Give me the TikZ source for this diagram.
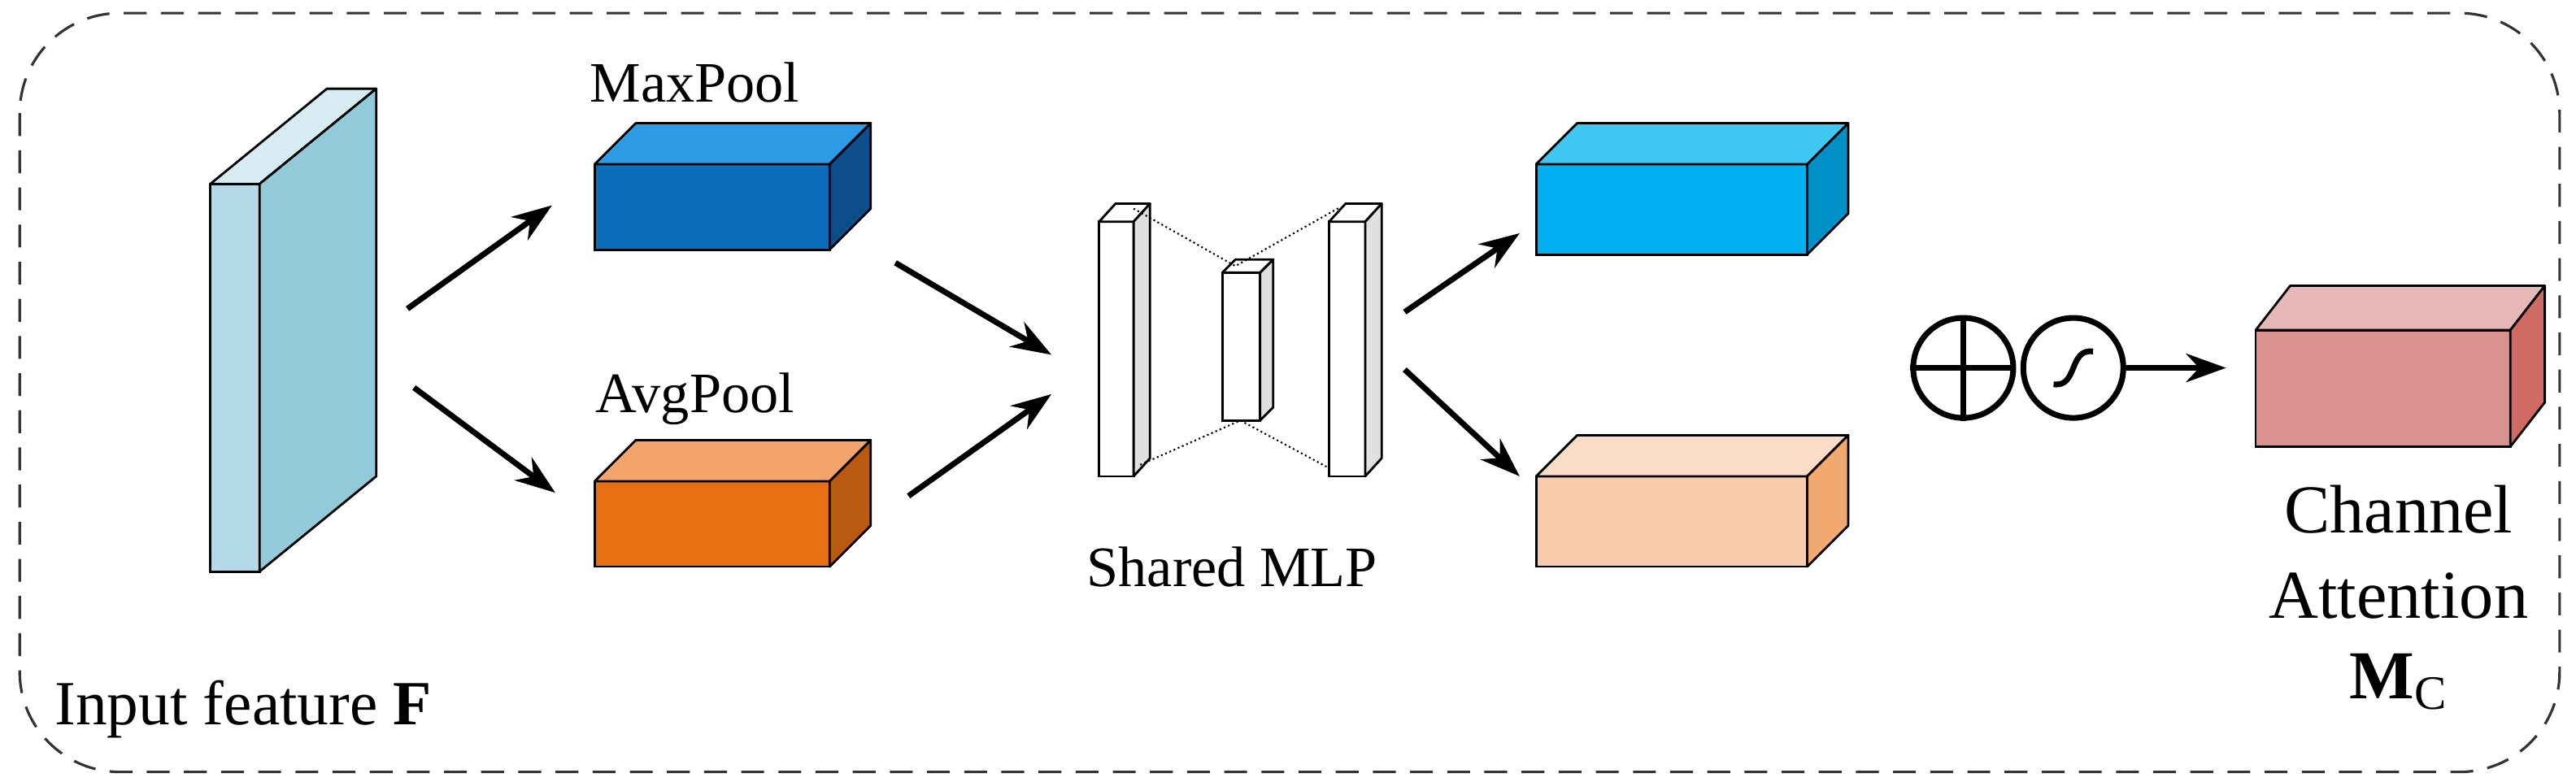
\documentclass[tikz,border=0pt]{standalone}
\usepackage{fontspec}
\setmainfont{Liberation Serif}
\usetikzlibrary{arrows.meta,calc}
\newcommand{\cuboid}[9]{% name, x1,y1,x2,y2, dx,dy, front,top ; side via \sidecol
  \fill[#8,draw=black,line width=0.8pt] (#2,#3) rectangle (#4,#5);
  \filldraw[#9,draw=black,line width=0.8pt,line join=round] (#2,#3) -- ++(#6,#7) -- ($(#4,#3)+(#6,#7)$) -- (#4,#3) -- cycle;
  \filldraw[\sidecol,draw=black,line width=0.8pt,line join=round] (#4,#3) -- ++(#6,#7) -- ($(#4,#5)+(#6,#7)$) -- (#4,#5) -- cycle;
  \node[inner sep=0pt] (#1) at ($(#2,#3)!0.5!(#4,#5)$) {};}
\definecolor{inA}{HTML}{B3DAE6}\definecolor{inB}{HTML}{93CAD9}\definecolor{inT}{HTML}{D6ECF2}
\definecolor{mpF}{HTML}{0A6EBD}\definecolor{mpT}{HTML}{2E9BE6}\definecolor{mpS}{HTML}{0D4E8A}
\definecolor{apF}{HTML}{E97012}\definecolor{apT}{HTML}{F4A46A}\definecolor{apS}{HTML}{B85A10}
\definecolor{bF}{HTML}{00B0F0}\definecolor{bT}{HTML}{40C8F5}\definecolor{bS}{HTML}{0090C8}
\definecolor{pF}{HTML}{F8CBAD}\definecolor{pT}{HTML}{FBDCC6}\definecolor{pS}{HTML}{F0A86E}
\definecolor{cF}{HTML}{D9928F}\definecolor{cT}{HTML}{E6B8B7}\definecolor{cS}{HTML}{CF6B64}
\definecolor{mlpS}{HTML}{E0E0E0}
\tikzset{arr/.style={-{Stealth[length=14pt,width=10pt]},line width=2pt},
  lbl/.style={font=\rmfamily\fontsize{20}{22}\selectfont,inner sep=0pt},
  thin/.style={line width=0.6pt}}
\begin{document}
\begin{tikzpicture}[x=0.0202cm,y=-0.0202cm]
\useasboundingbox (0,0) rectangle (1568,476);
\draw[dashed,line width=0.9pt,dash pattern=on 8pt off 5pt,rounded corners=35pt,gray!40!black] (12,8) rectangle (1558,470);
% input feature
\def\sidecol{inB}\cuboid{inp}{128}{112}{158}{348}{71}{-58}{inA}{inT}
\node[lbl,font=\rmfamily\fontsize{22}{24}\selectfont,anchor=west] (inl) at (33,432) {Input feature \textbf{F}};
% pools
\def\sidecol{mpS}\cuboid{mp}{362}{100}{505}{152}{25}{-25}{mpF}{mpT}
\node[lbl] (mpl) at (423,50) {MaxPool};
\def\sidecol{apS}\cuboid{ap}{362}{293}{505}{345}{25}{-25}{apF}{apT}
\node[lbl] (apl) at (423,243) {AvgPool};
% MLP
\begin{scope}[thin]
\def\sidecol{mlpS}
\cuboid{m1}{669}{135}{690}{290}{10}{-11}{white}{white}
\cuboid{m2}{744}{166}{767}{256}{8}{-8}{white}{white}
\cuboid{m3}{809}{135}{831}{290}{10}{-11}{white}{white}
\end{scope}
\draw[thin,densely dotted] (690,127) -- (752,162) -- (816,126);
\draw[thin,densely dotted] (694,283) -- (755,256) -- (809,285);
\node[lbl] (mlpl) at (750,345) {Shared MLP};
% outputs
\def\sidecol{bS}\cuboid{ob}{935}{100}{1100}{155}{25}{-25}{bF}{bT}
\def\sidecol{pS}\cuboid{op}{935}{290}{1100}{345}{25}{-25}{pF}{pT}
% channel attention
\node[circle,draw,line width=2pt,minimum width=35pt,inner sep=0pt] (plus) at (1195,224) {};
\draw[line width=2pt] (plus.north) -- (plus.south) (plus.west) -- (plus.east);
\node[circle,draw,line width=2pt,minimum width=35pt,inner sep=0pt] (sig) at (1262,224) {};
\draw[line width=2pt] ($(sig)+(-12,10)$) .. controls ($(sig)+(3,12)$) and ($(sig)+(-3,-12)$) .. ($(sig)+(12,-10)$);
\def\sidecol{cS}\cuboid{ca}{1373}{201}{1528}{272}{21}{-27}{cF}{cT}
\node[lbl,font=\rmfamily\fontsize{24}{30}\selectfont,align=center,anchor=north] (cal) at (1460,295) {Channel\\Attention\\[-2pt]$\mathbf{M}_{\mathrm{C}}$};
% arrows
\draw[arr] (248,188) -- (336,125);
\draw[arr] (252,236) -- (338,300);
\draw[arr] (545,160) -- (640,216);
\draw[arr] (553,302) -- (640,240);
\draw[arr] (855,190) -- (925,142);
\draw[arr] (855,225) -- (925,290);
\draw[arr] (sig.east) -- (1355,224);
\end{tikzpicture}
\end{document}
